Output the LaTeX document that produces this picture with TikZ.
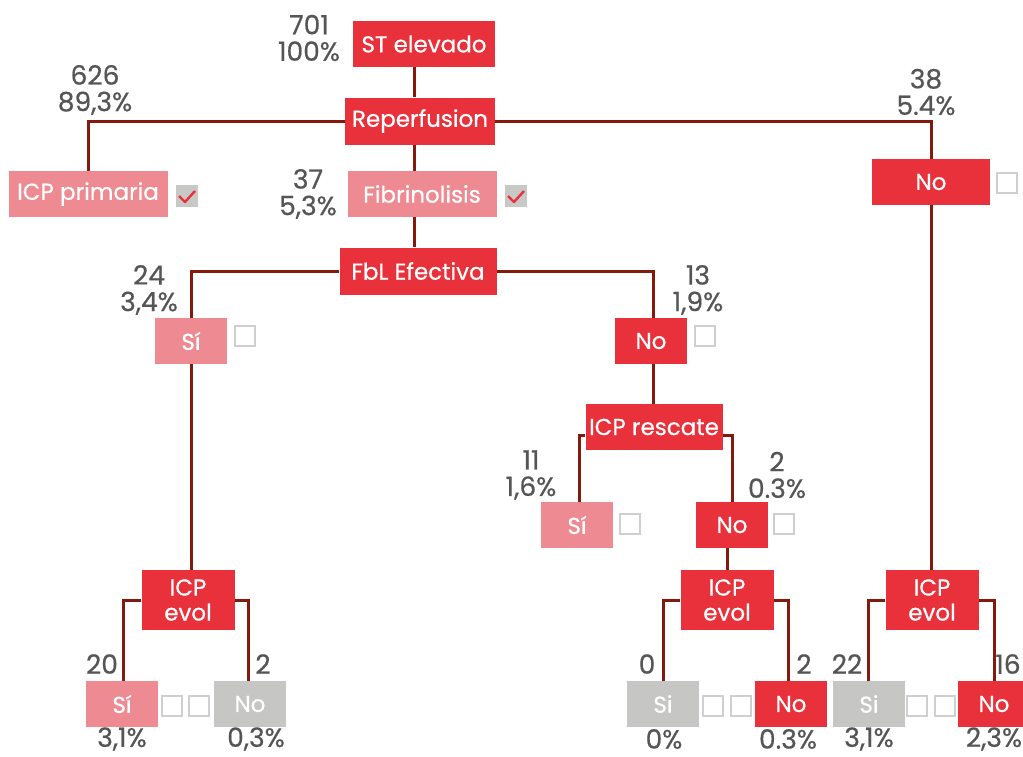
\documentclass[tikz,border=0pt]{standalone}
\usepackage{fontspec}
\setmainfont{Poppins}
\newfontfamily\medfont{Poppins}[FakeBold=0.6]
\definecolor{boxred}{HTML}{E8313A}
\definecolor{boxpink}{HTML}{EE8A91}
\definecolor{boxgray}{HTML}{C6C6C4}
\definecolor{linecol}{HTML}{841A0E}
\definecolor{numgray}{HTML}{555555}
\definecolor{cbgray}{HTML}{C8C8C6}
\definecolor{cbedge}{HTML}{CFCFCF}
\tikzset{
  box/.style={inner sep=0pt, text=white, font=\medfont\fontsize{23}{25}\selectfont, align=center},
  redbox/.style={box, fill=boxred},
  pinkbox/.style={box, fill=boxpink},
  graybox/.style={box, fill=boxgray},
  lbl/.style={inner sep=0pt, text=numgray, font=\medfont\fontsize{26.5}{26.5}\selectfont, align=center},
  conn/.style={draw=linecol, line width=3pt},
  cbempty/.style={draw=cbedge, fill=white, line width=1.5pt, minimum size=20pt, inner sep=0pt},
  cbfull/.style={fill=cbgray, minimum size=22pt, inner sep=0pt},
  tick/.style={draw=boxred, line width=2.4pt, line join=round}
}
\begin{document}
\begin{tikzpicture}[x=1pt,y=-1pt]
\useasboundingbox (0,0) rectangle (1023,756);
\coordinate (spine) at (414,0);
% nodes
\node[redbox, minimum width=142pt, minimum height=46pt] (st) at (424,44) {ST elevado};
\node[redbox, minimum width=150pt, minimum height=47pt] (rep) at (420,121) {Reperfusion};
\node[pinkbox, minimum width=159pt, minimum height=46pt] (prim) at (88,194) {ICP primaria};
\node[pinkbox, minimum width=149pt, minimum height=46pt] (fib) at (422,194) {Fibrinolisis};
\node[redbox, minimum width=118pt, minimum height=46pt] (noR) at (931,182) {No};
\node[redbox, minimum width=157pt, minimum height=47pt] (fbl) at (418,271) {FbL Efectiva};
\node[pinkbox, minimum width=72pt, minimum height=46pt] (siA) at (191,341) {Sí};
\node[redbox, minimum width=72pt, minimum height=46pt] (noA) at (651,341) {No};
\node[redbox, minimum width=137pt, minimum height=46pt] (resc) at (654,427) {ICP rescate};
\node[pinkbox, minimum width=72pt, minimum height=46pt] (siB) at (577,525) {Sí};
\node[redbox, minimum width=72pt, minimum height=46pt] (noB) at (732,525) {No};
\node[redbox, minimum width=93pt, minimum height=60pt] (evL) at (188,600) {ICP\\evol};
\node[redbox, minimum width=93pt, minimum height=60pt] (evM) at (727,600) {ICP\\evol};
\node[redbox, minimum width=93pt, minimum height=60pt] (evR) at (932,600) {ICP\\evol};
\node[pinkbox, minimum width=72pt, minimum height=46pt] (siL) at (122,704) {Sí};
\node[graybox, minimum width=72pt, minimum height=46pt] (noL) at (250,704) {No};
\node[graybox, minimum width=72pt, minimum height=46pt] (siM) at (663,704) {Si};
\node[redbox, minimum width=72pt, minimum height=46pt] (noM) at (791,704) {No};
\node[graybox, minimum width=72pt, minimum height=46pt] (siR) at (869,704) {Si};
\node[redbox, minimum width=72pt, minimum height=46pt] (noR2) at (994,704) {No};
% connectors
\draw[conn] (st.south -| spine) -- (rep.north -| spine);
\draw[conn] (rep.west) -| (prim.north);
\draw[conn] (rep.east) -| (noR.north);
\draw[conn] (rep.south -| spine) -- (fib.north -| spine);
\draw[conn] (fib.south -| spine) -- (fbl.north -| spine);
\draw[conn] (fbl.west) -| (siA.north);
\draw[conn] (fbl.east) -| ([xshift=2pt]noA.north);
\draw[conn] ([xshift=2pt]noA.south) -- ([xshift=2pt]noA.south |- resc.north);
\draw[conn] ([yshift=-8pt]resc.west) -| ([xshift=2pt]siB.north);
\draw[conn] ([yshift=-8pt]resc.east) -| (noB.north);
\draw[conn] (siA.south) -- (siA.south |- evL.north);
\draw[conn] (noR.south) -- (noR.south |- evR.north);
\draw[conn] (evM.north) -- (evM.north |- noB.south);
\draw[conn] (evL.west) -| ([xshift=1pt]siL.north);
\draw[conn] (evL.east) -| ([xshift=-2pt]noL.north);
\draw[conn] (evM.west) -| (siM.north);
\draw[conn] (evM.east) -| ([xshift=-3pt]noM.north);
\draw[conn] (evR.west) -| ([xshift=-1pt]siR.north);
\draw[conn] (evR.east) -| (noR2.north);
% checkboxes
\node[cbfull] (cb1) at (187,196) {};
\draw[tick] ([xshift=-8pt,yshift=0pt]cb1.center) -- ([xshift=-2pt,yshift=-6pt]cb1.center) -- ([xshift=8pt,yshift=5pt]cb1.center);
\node[cbfull] (cb2) at (516,196) {};
\draw[tick] ([xshift=-8pt,yshift=0pt]cb2.center) -- ([xshift=-2pt,yshift=-6pt]cb2.center) -- ([xshift=8pt,yshift=5pt]cb2.center);
\node[cbempty] (cb3) at (1007,183) {};
\node[cbempty] (cb4) at (245,336) {};
\node[cbempty] (cb5) at (705,336) {};
\node[cbempty] (cb6) at (630,524) {};
\node[cbempty] (cb7) at (784,524) {};
\node[cbempty] (cb8) at (172,706) {};
\node[cbempty] (cb9) at (199,706) {};
\node[cbempty] (cb10) at (713,706) {};
\node[cbempty] (cb11) at (741,706) {};
\node[cbempty] (cb12) at (917,706) {};
\node[cbempty] (cb13) at (945,706) {};
% labels
\node[lbl] (l701) at (309,38) {701\\100\%};
\node[lbl] (l626) at (95,90) {626\\89,3\%};
\node[lbl] (l37) at (308,194) {37\\5,3\%};
\node[lbl] (l38) at (926,92) {38\\5.4\%};
\node[lbl] (l24) at (149,290) {24\\3,4\%};
\node[lbl] (l13) at (698,290) {13\\1,9\%};
\node[lbl] (l11) at (531,475) {11\\1,6\%};
\node[lbl] (l2a) at (777,475) {2\\0.3\%};
\node[lbl] (l20) at (102,664) {20};
\node[lbl] (l2b) at (263,664) {2};
\node[lbl] (l31a) at (122,739) {3,1\%};
\node[lbl] (l03a) at (256,739) {0,3\%};
\node[lbl] (l0) at (647,664) {0};
\node[lbl] (l2c) at (804,664) {2};
\node[lbl] (l0p) at (664,739) {0\%};
\node[lbl] (l03b) at (788,739) {0.3\%};
\node[lbl] (l22) at (847,664) {22};
\node[lbl] (l16) at (1008,664) {16};
\node[lbl] (l31b) at (869,739) {3,1\%};
\node[lbl] (l23) at (994,739) {2,3\%};
\end{tikzpicture}
\end{document}
